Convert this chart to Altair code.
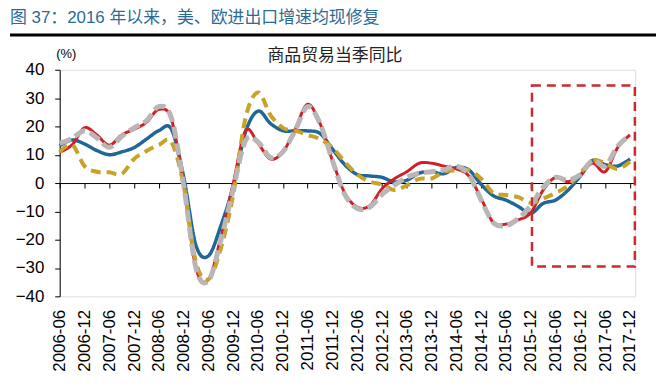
import altair as alt
import pandas as pd

title_text = "图 37：2016 年以来，美、欧进出口增速均现修复"
subtitle_text = "商品贸易当季同比"

dates = [
    "2006-06-01", "2006-09-01", "2006-12-01",
    "2007-03-01", "2007-06-01", "2007-09-01", "2007-12-01",
    "2008-03-01", "2008-06-01", "2008-09-01", "2008-12-01",
    "2009-03-01", "2009-06-01", "2009-09-01", "2009-12-01",
    "2010-03-01", "2010-06-01", "2010-09-01", "2010-12-01",
    "2011-03-01", "2011-06-01", "2011-09-01", "2011-12-01",
    "2012-03-01", "2012-06-01", "2012-09-01", "2012-12-01",
    "2013-03-01", "2013-06-01", "2013-09-01", "2013-12-01",
    "2014-03-01", "2014-06-01", "2014-09-01", "2014-12-01",
    "2015-03-01", "2015-06-01", "2015-09-01", "2015-12-01",
    "2016-03-01", "2016-06-01", "2016-09-01", "2016-12-01",
    "2017-03-01", "2017-06-01", "2017-09-01", "2017-12-01",
]

series_names = ["美国进口", "美国出口", "欧盟出口", "欧盟进口"]

blue_vals = [13.2, 15.2, 13.8, 11.5, 10.0, 11.0, 12.5, 15.5, 18.5, 19.0, 2.0,
             -22.0, -25.7, -15.0, -1.0, 18.0, 25.4, 21.0, 18.5, 18.4, 18.4,
             17.5, 12.0, 6.5, 3.0, 2.5, 2.0, 0.4, 1.0, 3.5, 4.0, 3.3, 5.5,
             4.6, -0.5, -4.5, -6.0, -8.3, -10.7, -7.2, -6.0, -2.5, 2.5, 8.0,
             6.5, 6.0, 8.5]
red_vals = [10.9, 13.5, 19.5, 17.0, 13.4, 17.0, 19.0, 21.4, 26.0, 22.5, -1.0,
            -30.0, -34.0, -19.0, 0.0, 18.5, 14.0, 8.5, 11.0, 19.0, 27.8,
            21.0, 8.0, -3.5, -8.5, -8.0, -2.0, 1.5, 4.0, 7.0, 7.0, 6.0, 5.0,
            2.5, -5.5, -14.0, -14.5, -13.0, -10.5, -2.5, 2.0, 0.5, 3.0, 7.0,
            4.0, 12.5, 17.0]
gold_vals = [10.9, 13.5, 6.0, 4.0, 3.8, 3.2, 8.5, 11.3, 13.5, 14.5, -1.0,
             -28.0, -34.0, -23.0, -4.0, 23.0, 32.0, 24.0, 19.5, 18.5, 17.0,
             15.5, 12.5, 7.5, 3.0, 0.5, -0.5, -2.5, -0.8, 1.5, 1.6, 4.0, 4.5,
             4.6, 1.5, -3.5, -4.2, -5.0, -7.0, -5.5, -3.5, -1.0, 3.5, 8.0,
             7.0, 5.0, 7.5]
gray_vals = [14.0, 15.8, 18.5, 16.0, 12.6, 16.5, 19.5, 22.0, 27.0, 23.0, -1.0,
             -30.0, -34.5, -20.0, -2.0, 15.0, 14.5, 9.0, 11.0, 18.5, 27.0,
             21.0, 8.0, -4.0, -9.0, -8.5, -4.0, -0.8, 2.0, 3.5, 4.0, 4.6, 6.0,
             3.0, -6.0, -14.0, -15.0, -12.5, -8.0, -1.5, 2.0, 1.0, 3.0, 8.0,
             6.0, 13.0, 17.0]

tick_labels = ["2006-06", "2006-12", "2007-06", "2007-12", "2008-06", "2008-12",
               "2009-06", "2009-12", "2010-06", "2010-12", "2011-06", "2011-12",
               "2012-06", "2012-12", "2013-06", "2013-12", "2014-06", "2014-12",
               "2015-06", "2015-12", "2016-06", "2016-12", "2017-06", "2017-12"]
y_ticks = [-40, -30, -20, -10, 0, 10, 20, 30, 40]

box_start = "2015-12-10"
box_end = "2018-01-06"
box_top = 34.4
box_bottom = -29.5

x_domain_start = (2006, 6, 1)
x_domain_end = (2018, 1, 8)

# ---- build tables ----
order_in_draw = [("美国进口", blue_vals), ("美国出口", red_vals),
                 ("欧盟出口", gold_vals), ("欧盟进口", gray_vals)]
rows = []
for name, vals in order_in_draw:
    for d, v in zip(dates, vals):
        rows.append({"date": d, "value": v, "series": name})
df = pd.DataFrame(rows)

box_df = pd.DataFrame([{"start": box_start, "end": box_end,
                        "top": box_top, "bottom": box_bottom}])
sub_df = pd.DataFrame([{"label": subtitle_text}])
title_df = pd.DataFrame([{"label": title_text}])
rule_df = pd.DataFrame([{"k": 0}])

W, H = 579, 228
NUM_FONT = "Liberation Sans"
CJK_FONT = "Liberation Sans, Noto Sans CJK SC"


def dt(s):
    y, m = s.split("-")[:2]
    return alt.DateTime(year=int(y), month=int(m), date=1, utc=True)


tick_values = [dt(t) for t in tick_labels]

xscale = alt.Scale(
    type="utc",
    domain=[alt.DateTime(year=x_domain_start[0], month=x_domain_start[1], date=x_domain_start[2], utc=True),
            alt.DateTime(year=x_domain_end[0], month=x_domain_end[1], date=x_domain_end[2], utc=True)],
)
yscale = alt.Scale(domain=[-40, 40], nice=False, zero=False)

axis_labels = alt.Axis(
    values=tick_values, labelExpr="utcFormat(datum.value, '%Y-%m')", labelAngle=270,
    labelFontSize=17, labelFont=NUM_FONT, labelColor="#000000",
    domain=False, ticks=False, grid=False, labelPadding=13,
    labelOverlap=False, labelFlush=False, title=None, orient="bottom",
)
axis_zero = alt.Axis(
    values=tick_values, labels=False, ticks=True, tickSize=5, tickColor="#000000",
    tickWidth=1, domain=True, domainColor="#000000", domainWidth=1, grid=False,
    orient="bottom", offset=-(H / 2), title=None,
)
axis_y = alt.Axis(
    values=y_ticks, labelFontSize=17, labelFont=NUM_FONT, labelColor="#000000",
    tickSize=5, tickColor="#000000", domainColor="#000000", grid=False,
    labelPadding=11, title="(%)", titleAngle=0, titleX=-4, titleY=-16,
    titleAlign="left", titleBaseline="middle", titleFontSize=13,
    titleFontWeight="normal", titleFont=NUM_FONT, titleColor="#000000",
)

color_scale = alt.Scale(domain=series_names,
                        range=["#1e6796", "#d11f26", "#c9a229", "#bab6b6"])
dash_scale = alt.Scale(domain=series_names,
                       range=[[1, 0], [1, 0], [10, 6], [12, 5]])
width_scale = alt.Scale(domain=series_names, range=[3.5, 3, 4, 5], type="ordinal")

lines = alt.Chart(df).mark_line(interpolate="cardinal").encode(
    x=alt.X("date:T", scale=xscale, axis=axis_labels),
    y=alt.Y("value:Q", scale=yscale, axis=axis_y),
    color=alt.Color("series:N", scale=color_scale, legend=None),
    strokeDash=alt.StrokeDash("series:N", scale=dash_scale, legend=None),
    strokeWidth=alt.StrokeWidth("series:N", scale=width_scale, legend=None),
    detail="series:N",
)

box = alt.Chart(box_df).mark_rect(
    filled=False, color="#cc2b2e", strokeWidth=2.5, strokeDash=[9, 6]
).encode(
    x=alt.X("start:T", scale=xscale, axis=axis_zero),
    x2="end:T",
    y=alt.Y("top:Q", scale=yscale, axis=axis_y),
    y2="bottom:Q",
)

subtitle = alt.Chart(sub_df).mark_text(
    font="Noto Sans CJK SC", fontSize=17, color="#222222", baseline="middle", align="center"
).encode(text="label:N", x=alt.value(277), y=alt.value(-14))

title = alt.Chart(title_df).mark_text(
    font=CJK_FONT, fontSize=17, color="#2b6a94", baseline="top", align="left"
).encode(text="label:N", x=alt.value(-50), y=alt.value(-60))

header_rule = alt.Chart(rule_df).mark_rule(color="#000000", strokeWidth=3).encode(
    x=alt.value(-50), x2=alt.value(600), y=alt.value(-35)
)

chart = alt.layer(lines, box, subtitle, title, header_rule).resolve_axis(
    x="independent"
).properties(
    width=W, height=H, padding=0,
).configure_view(stroke=None).configure(background="#ffffff")

chart.save("out.html", embed_options={"renderer": "svg", "actions": False})
